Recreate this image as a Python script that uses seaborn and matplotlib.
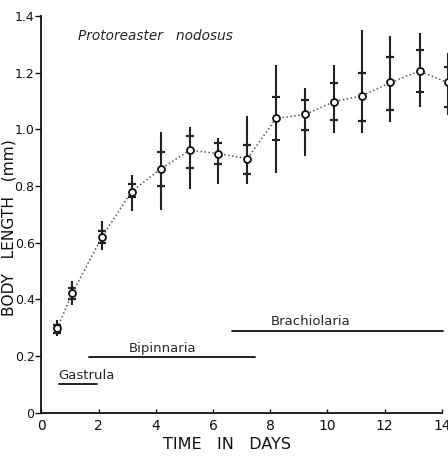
import numpy as np
import pandas as pd
import matplotlib
matplotlib.use('Agg')
import matplotlib.pyplot as plt
import seaborn as sns

# Growth of Protoreaster nodosus larvae
days = [0.55, 1.08, 2.12, 3.15, 4.17, 5.19, 6.18, 7.2, 8.2, 9.22, 10.22, 11.2, 12.2, 13.22, 14.2]
mean_len = [0.297, 0.422, 0.62, 0.78, 0.86, 0.926, 0.914, 0.896, 1.038, 1.052, 1.097, 1.118, 1.165, 1.205, 1.165]
range_lo = [0.27, 0.38, 0.575, 0.71, 0.716, 0.79, 0.806, 0.806, 0.845, 0.906, 0.986, 0.986, 1.024, 1.079, 1.05]
range_hi = [0.326, 0.463, 0.677, 0.84, 0.99, 1.009, 0.97, 1.047, 1.226, 1.144, 1.227, 1.35, 1.33, 1.338, 1.27]
inner_lo = [0.28, 0.40, 0.60, 0.76, 0.80, 0.862, 0.876, 0.841, 0.961, 0.996, 1.033, 1.03, 1.067, 1.13, 1.08]
inner_hi = [0.31, 0.44, 0.64, 0.805, 0.92, 0.977, 0.95, 0.945, 1.112, 1.102, 1.163, 1.20, 1.256, 1.279, 1.22]

# Larval stages
stages = ['Gastrula', 'Bipinnaria', 'Brachiolaria']
stage_start = [0.6, 1.65, 6.65]
stage_end = [1.95, 7.45, 14.05]
stage_level = [0.1, 0.195, 0.288]

df = pd.DataFrame({'day': days, 'length': mean_len})

sns.set_theme(style="ticks")
plt.rcParams['font.family'] = ['DejaVu Sans']

fig = plt.figure(figsize=(4.48, 4.58), dpi=100)
ax = fig.add_axes([0.0926, 0.0993, 0.9065, 0.866])

# range bars and inner crossbars
ax.vlines(days, range_lo, range_hi, color='#222222', lw=1.5, clip_on=False, zorder=2)
ax.plot(days, inner_lo, ls='none', marker='_', ms=5.5, mew=1.6, color='#222222', clip_on=False, zorder=2)
ax.plot(days, inner_hi, ls='none', marker='_', ms=5.5, mew=1.6, color='#222222', clip_on=False, zorder=2)

# mean line
sns.lineplot(data=df, x='day', y='length', ax=ax, color='#555555', lw=1.1,
             linestyle=(0, (1, 1.6)), zorder=3, clip_on=False)
ax.plot(days, mean_len, ls='none', marker='o', ms=5, mfc='white', mec='#111111',
        mew=1.3, zorder=4, clip_on=False)

# stage bars
for name, s, e, lev in zip(stages, stage_start, stage_end, stage_level):
    ax.plot([s, e], [lev, lev], color='#111111', lw=1.3)
ax.text(stage_start[0] - 0.02, stage_level[0] + 0.032, stages[0], fontsize=9.5, ha='left', va='center')
ax.text(4.25, stage_level[1] + 0.03, stages[1], fontsize=9.5, ha='center', va='center')
ax.text(9.4, stage_level[2] + 0.033, stages[2], fontsize=9.5, ha='center', va='center')

ax.text(1.28, 1.328, 'Protoreaster   nodosus', fontsize=9.8, style='italic', ha='left', va='center')

ax.set_xlim(0, 14.2)
ax.set_ylim(0, 1.4)
ax.set_xticks(np.arange(0, 15, 2))
ax.set_yticks(np.arange(0, 1.41, 0.2))
ax.set_yticklabels(['0', '0.2', '0.4', '0.6', '0.8', '1.0', '1.2', '1.4'])
ax.tick_params(axis='x', direction='in', length=3, width=1, labelsize=10, pad=5, colors='#111111')
ax.tick_params(axis='y', direction='out', length=4, width=1, labelsize=9, pad=1, colors='#111111')
ax.set_xlabel('TIME   IN   DAYS', fontsize=11.5, labelpad=1, color='#111111')
ax.xaxis.set_label_coords(0.457, -0.062)
ax.set_ylabel('BODY   LENGTH   (mm)', fontsize=11.2, labelpad=2, color='#111111')
ax.yaxis.set_label_coords(-0.062, 0.465)

sns.despine(ax=ax)
ax.spines['bottom'].set_bounds(0, 14)
for sp in ['left', 'bottom']:
    ax.spines[sp].set_linewidth(1.3)
    ax.spines[sp].set_color('#111111')

fig.savefig('out.png', dpi=100, facecolor='white')
